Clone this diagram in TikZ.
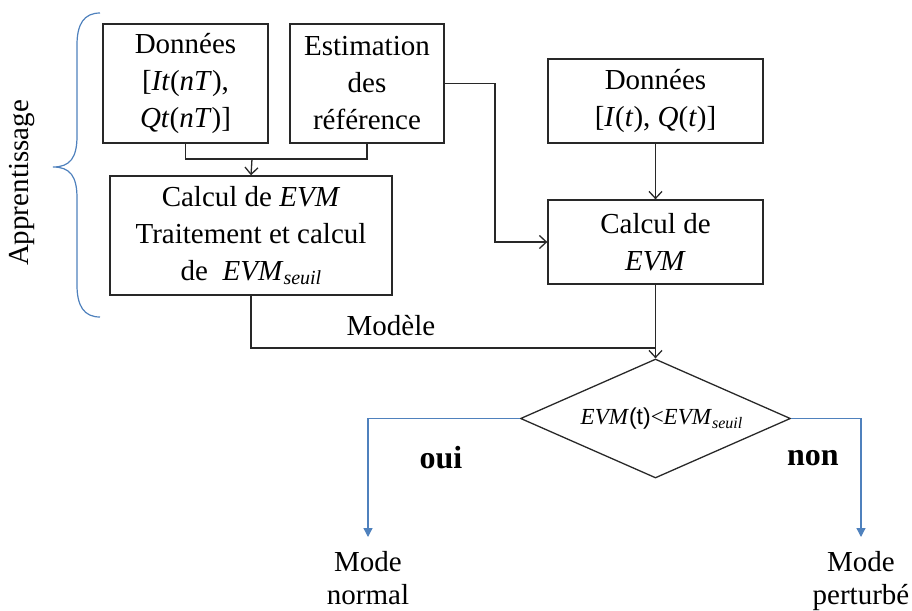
\documentclass[tikz,border=0pt]{standalone}
\usepackage{fontspec}
\setmainfont{Liberation Serif}
\newfontfamily\arialf{Liberation Sans}
\usetikzlibrary{arrows.meta,shapes.geometric}
\definecolor{brblue}{RGB}{79,129,189}
\definecolor{lnc}{RGB}{40,40,40}
\newcommand{\evmseuil}[1]{\textit{EVM}\raisebox{-0.35ex}{\fontsize{#1}{#1}\selectfont\textit{seuil}}}
\begin{document}
\begin{tikzpicture}[x=0.5pt,y=-0.5pt,
  box/.style={draw=lnc, line width=0.65pt, align=center, inner sep=0pt,
    font=\fontsize{14.5}{18.5}\selectfont},
  conn/.style={draw=lnc, line width=0.65pt},
  arr/.style={conn, -{Straight Barb[length=3.5pt,width=6.5pt]}},
  bluearr/.style={draw=brblue, line width=0.65pt, -{Triangle[length=4.5pt,width=4.5pt]}},
  lbl/.style={inner sep=0pt, align=center, font=\fontsize{14.5}{16.5}\selectfont},
  blbl/.style={inner sep=0pt, font=\fontsize{16}{16}\selectfont\bfseries}]
\useasboundingbox (0,0) rectangle (912,611);

% boxes
\node[box, minimum width=82.5pt, minimum height=59.5pt] (dA) at (185.5,83.5)
  {Données\\{}[\textit{It}(\textit{nT}),\\\textit{Qt}(\textit{nT})]};
\node[box, minimum width=77pt, minimum height=59.5pt] (dB) at (367,83.5)
  {Estimation\\des\\référence};
\node[box, minimum width=141pt, minimum height=59.5pt] (calc) at (251,235.5)
  {Calcul de \textit{EVM}\\Traitement et calcul\\de~ \evmseuil{10}};
\node[box, minimum width=107.5pt, minimum height=42pt] (dD) at (655.5,101)
  {Données\\{}[\textit{I}(\textit{t}), \textit{Q}(\textit{t})]};
\node[box, minimum width=107.5pt, minimum height=42pt] (dE) at (655.5,242)
  {Calcul de\\\textit{EVM}};

% decision
\node[draw=lnc, line width=0.65pt, shape=diamond, aspect=2.27, inner sep=0pt,
  minimum width=135pt, minimum height=59.5pt,
  font=\fontsize{11.5}{11.5}\selectfont] (dec) at (655.5,418.5)
  {\hspace{6pt}\textit{EVM}{\arialf(t)}<\evmseuil{8}};

% connectors
\coordinate (m) at (252,159);
\draw[conn] (dA.south) |- (m);
\draw[conn] (dB.south) |- (m);
\draw[arr] (m) -- (calc.north);
\coordinate (k1) at (495,83.5);
\draw[arr] (dB.east) -- (k1) |- (dE.west);
\draw[arr] (dD.south) -- (dE.north);
\coordinate (j) at (655.5,348);
\draw[conn] (calc.south) |- (j);
\draw[arr] (dE.south) -- (dec.north);
\node[lbl] (mod) at (391,326) {Modèle};

% outcomes
\coordinate (tipL) at (368,537);
\coordinate (tipR) at (861,537);
\draw[bluearr] (dec.west) -| (tipL);
\draw[bluearr] (dec.east) -| (tipR);
\node[blbl] (oui) at (441,458) {oui};
\node[blbl] (non) at (813,458) {non};
\node[lbl, anchor=north] (mn) at (368,551) {Mode\\normal};
\node[lbl, anchor=north] (mp) at (861,551) {Mode\\perturbé};

% brace
\draw[brblue, line width=0.6pt] (100,13) .. controls (84,13) and (77,24) .. (77,45)
  -- (77,136) .. controls (77,158) and (70,167) .. (53,167)
  .. controls (70,167) and (77,176) .. (77,198)
  -- (77,285) .. controls (77,306) and (84,317) .. (100,317);
\node[lbl, rotate=90] (app) at (22,183) {Apprentissage};
\end{tikzpicture}
\end{document}
